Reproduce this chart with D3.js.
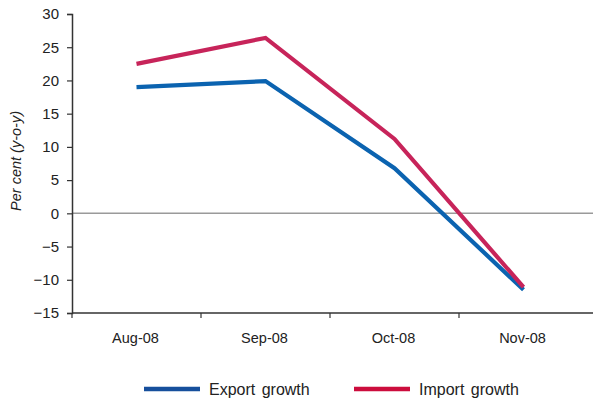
<!DOCTYPE html>
<html>
<head>
<meta charset="utf-8">
<script src="https://cdn.jsdelivr.net/npm/d3@7"></script>
<style>
  html, body { margin: 0; padding: 0; background: #fff; }
  svg { display: block; font-family: "Liberation Sans", Arial, sans-serif; }
</style>
</head>
<body>
<svg id="chart" width="593" height="401"></svg>
<script>
// Monthly trade growth, per cent year-on-year
const months = ["Aug-08", "Sep-08", "Oct-08", "Nov-08"];
const exportGrowth = [19.0, 19.9, 6.8, -11.5];
const importGrowth = [22.5, 26.4, 11.2, -11.1];
const yTicks = [30, 25, 20, 15, 10, 5, 0, -5, -10, -15];

const seriesList = [
  { name: "Export growth", values: exportGrowth, color: "#0b63b0", legendColor: "#164f9c" },
  { name: "Import growth", values: importGrowth, color: "#c7245a", legendColor: "#cc0d3d" }
];

const svg = d3.select("#chart");
const plotLeft = 72, plotRight = 590, plotTop = 14, plotBottom = 313;

const x = d3.scaleBand().domain(months).range([plotLeft, plotRight - 2]).paddingInner(0).paddingOuter(0);
const y = d3.scaleLinear().domain([-15, 30]).range([plotBottom, plotTop]);

// zero reference line
svg.append("line")
  .attr("x1", plotLeft).attr("x2", plotRight + 3)
  .attr("y1", y(0)).attr("y2", y(0))
  .attr("stroke", "#9a9a9a").attr("stroke-width", 1.5);

// y axis
const yAxis = d3.axisLeft(y).tickValues(yTicks).tickSize(5).tickPadding(8)
  .tickFormat(d => d < 0 ? "\u2212" + Math.abs(d) : String(d));
const gy = svg.append("g").attr("transform", `translate(${plotLeft},0)`).call(yAxis);
gy.select(".domain").attr("stroke", "#333").attr("stroke-width", 1.5);
gy.selectAll(".tick line").attr("stroke", "#333").attr("stroke-width", 1.2);
gy.selectAll(".tick text").attr("font-size", 15).attr("fill", "#222")
  .attr("font-family", "Liberation Sans, Arial, sans-serif");

// x axis: ticks at category boundaries
svg.append("line")
  .attr("x1", plotLeft).attr("x2", plotRight + 3)
  .attr("y1", plotBottom).attr("y2", plotBottom)
  .attr("stroke", "#333").attr("stroke-width", 1.5);
svg.selectAll(".xtick").data(months).enter().append("line")
  .attr("x1", d => x(d)).attr("x2", d => x(d))
  .attr("y1", plotBottom).attr("y2", plotBottom + 5)
  .attr("stroke", "#333").attr("stroke-width", 1.2);
svg.selectAll(".xlabel").data(months).enter().append("text")
  .attr("x", d => x(d) + x.bandwidth() / 2 - 1)
  .attr("y", plotBottom + 30)
  .attr("text-anchor", "middle")
  .attr("font-size", 14.5).attr("fill", "#222")
  .text(d => d);

// y axis title
svg.append("text")
  .attr("transform", `translate(21,161) rotate(-90)`)
  .attr("text-anchor", "middle")
  .attr("font-size", 14.5).attr("font-style", "italic").attr("fill", "#222")
  .text("Per cent (y-o-y)");

// series lines
const line = d3.line()
  .x((d, i) => x(months[i]) + x.bandwidth() / 2)
  .y(d => y(d));

seriesList.forEach(s => {
  svg.append("path")
    .datum(s.values)
    .attr("d", line)
    .attr("fill", "none")
    .attr("stroke", s.color)
    .attr("stroke-width", 4.2)
    .attr("stroke-linejoin", "miter");
});

// legend
const legendX = [144, 354];
seriesList.forEach((s, i) => {
  const g = svg.append("g").attr("transform", `translate(${legendX[i]},389)`);
  g.append("line").attr("x1", 0).attr("x2", 56).attr("y1", 0).attr("y2", 0)
    .attr("stroke", s.legendColor).attr("stroke-width", 4.5);
  g.append("text").attr("x", 65).attr("y", 6)
    .attr("font-size", 16).attr("fill", "#222")
    .attr("word-spacing", 2)
    .text(s.name);
});
</script>
</body>
</html>
